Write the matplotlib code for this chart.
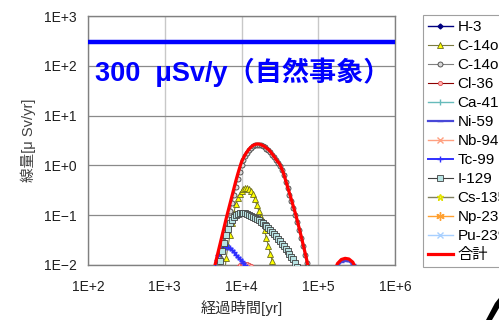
import numpy as np
import matplotlib
matplotlib.use("Agg")
import matplotlib.pyplot as plt
from matplotlib.patches import Polygon

plt.rcParams['font.family'] = ['Liberation Sans', 'Noto Sans CJK JP', 'DejaVu Sans']

# ---------------- data ----------------
years = [3980, 4220, 4470, 4730, 5010, 5310, 5620, 5960, 6310, 6680,
         7080, 7500, 7940, 8410, 8910, 9440, 10000, 10600, 11200, 11900,
         12600, 13300, 14100, 15000, 15800, 16800, 17800, 18800, 20000, 21100,
         22400, 23700, 25100, 26600, 28200, 29900, 31600, 33500, 35500, 37600,
         39800, 42200, 44700, 47300, 50100, 53100, 56200, 59600, 63100, 66800,
         70800, 75000, 79400, 84100, 89100,
         100000, 112000, 126000, 141000, 158000, 178000, 200000, 224000, 251000, 282000,
         316000, 355000]

N = None
h3 = []
c14_inorg = [N, N, N, N, N, N,
             0.00251, 0.00501, 0.0141, 0.0240, 0.0398, 0.0708, 0.112, 0.166, 0.219, 0.263,
             0.302, 0.331, 0.347, 0.351, 0.339, 0.309, 0.263, 0.209, 0.158, 0.123,
             0.0933, 0.0692, 0.0501, 0.0347, 0.0240, 0.0170, 0.0120, 0.00794, 0.00501,
             N, N, N, N, N, N, N, N, N, N, N, N, N, N, N, N, N, N, N, N,
             N, N, N, N, N, N, N, N, N, N, N, N]
c14_org = [N, N, N,
           0.00501, 0.00794, 0.0141, 0.0251, 0.0380, 0.0562, 0.0832, 0.120, 0.174, 0.251,
           0.363, 0.525, 0.741, 1.0, 1.26, 1.51, 1.78, 2.0, 2.24, 2.40,
           2.51, 2.57, 2.57, 2.51, 2.40, 2.29, 2.14, 2.0, 1.82, 1.62,
           1.45, 1.26, 1.12, 0.977, 0.794, 0.631, 0.468, 0.347, 0.257, 0.191,
           0.141, 0.102, 0.0724, 0.0513, 0.0355, 0.0240, 0.0162, 0.0110, 0.00708, 0.00447,
           N, N,
           N, N, N, N, N, N, N, N, N, N, N, N]
cl36 = [N, N, N, N, N, N, N, N, N, N, N, N,
        0.0060, 0.0078, 0.0091, 0.0099, 0.0103, 0.0105, 0.0105, 0.0104, 0.0100, 0.0094,
        0.0085, 0.0072, 0.0057,
        N, N, N, N, N, N, N, N, N, N, N, N, N, N, N, N, N, N, N, N,
        N, N, N, N, N, N, N, N, N, N,
        N, N, N, N, N, N, N, N, N, N, N, N]
ca41 = []
ni59 = [N] * 55 + [N, N, 0.0012, 0.0030, 0.0056, 0.0094, 0.0117, 0.0122, 0.0119, 0.0104,
                   0.0073, 0.0044]
nb94 = []
tc99 = [0.00398, 0.00631, 0.00891, 0.0126, 0.0158, 0.0186, 0.0209, 0.0224, 0.0229, 0.0226,
        0.0219, 0.0200, 0.0182, 0.0162, 0.0145, 0.0132, 0.0120, 0.0110, 0.0100, 0.00851,
        0.00708] + [N] * 34 + [N] * 12
i129 = [N, N, N,
        0.00398, 0.00708, 0.0120, 0.0191, 0.0282, 0.0398, 0.0537, 0.0692, 0.0813, 0.0912,
        0.100, 0.107, 0.111, 0.112, 0.112, 0.110, 0.106, 0.102, 0.0977, 0.0933,
        0.0881, 0.0832, 0.0785, 0.0741, 0.0692, 0.0646, 0.0596, 0.0550, 0.0501, 0.0457,
        0.0417, 0.0380, 0.0339, 0.0302, 0.0269, 0.0240, 0.0214, 0.0191, 0.0168, 0.0148,
        0.0129, 0.0112, 0.00891, 0.00631] + [N] * 8 + [N] * 12
cs135 = []
np237 = []
pu239 = []
total = [0.00447, 0.00646, 0.00933, 0.0135, 0.0195, 0.0282, 0.0407, 0.0589, 0.0851, 0.120,
         0.170, 0.240, 0.339, 0.479, 0.661, 0.891, 1.17, 1.41, 1.66, 1.91,
         2.14, 2.34, 2.51, 2.63, 2.69, 2.69, 2.63, 2.51, 2.40, 2.24,
         2.09, 1.91, 1.70, 1.51, 1.32, 1.17, 1.05, 0.851, 0.676, 0.501,
         0.372, 0.275, 0.204, 0.151, 0.112, 0.0794, 0.0562, 0.0389, 0.0269, 0.0186,
         0.0126, 0.00794, 0.00501, 0.00316, 0.00200,
         0.0010, 0.0008, 0.0015, 0.0035, 0.0065, 0.0107, 0.0129, 0.0136, 0.0132, 0.0114,
         0.0079, 0.0048]

natural_level = 300
natural_label = "300  μSv/y（自然事象）"

x_ticks = [1e2, 1e3, 1e4, 1e5, 1e6]
x_tick_labels = ["1E+2", "1E+3", "1E+4", "1E+5", "1E+6"]
y_ticks = [1e-2, 1e-1, 1e0, 1e1, 1e2, 1e3]
y_tick_labels = ["1E\u22122", "1E\u22121", "1E+0", "1E+1", "1E+2", "1E+3"]
x_label = "経過時間[yr]"
y_label = "線量[μ Sv/yr]"


def arr(v):
    return np.array([np.nan if a is None else a for a in v], dtype=float)


yrs = np.array(years, dtype=float)

# series: (label, values, style)
series = [
    ("H-3", h3, dict(color="#000080", marker="D", ms=2.5, lw=1.0)),
    ("C-14org", c14_inorg, dict(color="#7a7a40", marker="^", ms=4.5, mfc="#ffff00", mec="#6b6b20", mew=0.6, lw=0.8)),
    ("C-14org2", c14_org, dict(color="#808080", marker="o", ms=3.6, mfc="#d8d8d8", mec="#404040", mew=0.6, lw=0.8)),
    ("Cl-36", cl36, dict(color="#8b0000", marker="o", ms=3.0, mfc="#ffb0b0", mec="#e05050", mew=0.6, lw=0.8)),
    ("Ca-41", ca41, dict(color="#66bbbb", marker="|", ms=5, lw=1.0)),
    ("Ni-59", ni59, dict(color="#4848d8", marker="_", ms=4, lw=1.6)),
    ("Nb-94", nb94, dict(color="#ffa080", marker="x", ms=4, lw=1.0)),
    ("Tc-99", tc99, dict(color="#3030ff", marker="+", ms=4.5, lw=1.4)),
    ("I-129", i129, dict(color="#404040", marker="s", ms=4.2, mfc="#b8e4e4", mec="#404040", mew=0.6, lw=0.8)),
    ("Cs-135", cs135, dict(color="#808060", marker="*", ms=5, mfc="#ffff40", mec="#e0e000", lw=1.0)),
    ("Np-237", np237, dict(color="#ffa030", marker=(6, 2, 0), ms=6, lw=1.0)),
    ("Pu-239", pu239, dict(color="#a8d0ff", marker="x", ms=4, lw=1.0)),
    ("合計", total, dict(color="#ff0000", lw=2.3)),
]

fig = plt.figure(figsize=(4.99, 3.20), dpi=100)
ax = fig.add_axes([88 / 499, 55 / 320, 307 / 499, 249 / 320])

ax.set_xscale("log")
ax.set_yscale("log")
ax.set_xlim(x_ticks[0], x_ticks[-1])
ax.set_ylim(y_ticks[0], y_ticks[-1])

ax.axhline(natural_level, color="#0000ff", lw=3.2, zorder=3)

handles = []
for label, vals, style in series:
    if len(vals):
        x = yrs[:len(vals)]
        y = arr(vals)
    else:
        x, y = [], []
    ln, = ax.plot(x, y, label=label, zorder=4, **style)
    handles.append(ln)

ax.set_xticks(x_ticks)
ax.set_xticklabels(x_tick_labels)
ax.set_yticks(y_ticks)
ax.set_yticklabels(y_tick_labels)
ax.xaxis.set_minor_locator(matplotlib.ticker.NullLocator())
ax.yaxis.set_minor_locator(matplotlib.ticker.NullLocator())
ax.tick_params(axis="both", length=0, labelsize=10, colors="#202020")
ax.tick_params(axis="x", pad=11)
ax.tick_params(axis="y", pad=8)

ax.grid(True, axis="x", color="#c8c8c8", lw=1.0, zorder=0)
ax.grid(True, axis="y", color="#8a8a8a", lw=0.9, zorder=0)
ax.set_axisbelow(True)
for sp in ax.spines.values():
    sp.set_color("#808080")
    sp.set_linewidth(1.0)

ax.set_xlabel(x_label, fontsize=11, color="#303030", labelpad=4)
ax.set_ylabel(y_label, fontsize=10.5, color="#404040", labelpad=6)

ax.text(0.023, 0.775, natural_label, transform=ax.transAxes, fontsize=19.5,
        fontweight="bold", color="#0000ff", va="center", ha="left", zorder=5)

leg = fig.legend(handles=handles, loc="upper left",
                 bbox_to_anchor=(423 / 499, 1 - 15 / 320), bbox_transform=fig.transFigure,
                 borderaxespad=0, fontsize=11, labelspacing=0.33, handlelength=1.65,
                 handletextpad=0.3, borderpad=0.32, numpoints=1, fancybox=False,
                 framealpha=1, edgecolor="#a0a0a0")
leg.get_frame().set_linewidth(0.8)

# partial arrow mark at bottom right corner
fig.patches.append(Polygon([(486 / 499, 0), (492 / 499, 0), (1.0, 12 / 320), (1.0, 22 / 320), (495 / 499, 17 / 320)],
                           closed=True, transform=fig.transFigure, facecolor="black", edgecolor="none"))

fig.savefig("out.png", dpi=100)
